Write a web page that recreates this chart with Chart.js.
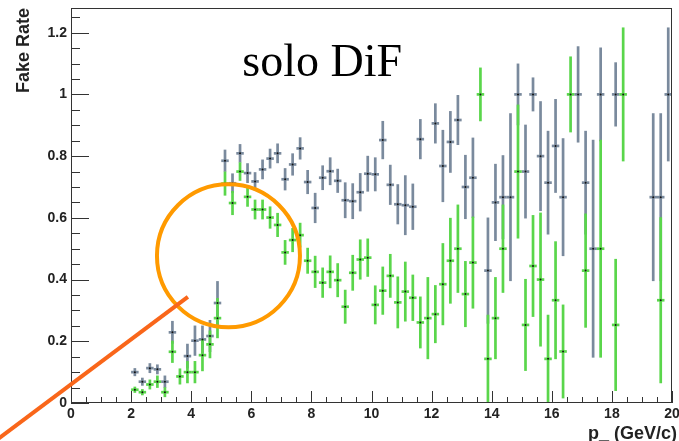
<!DOCTYPE html>
<html lang="en">
<head>
<meta charset="UTF-8">
<title>Fake Rate vs p</title>
<script src="https://cdn.jsdelivr.net/npm/chart.js"></script>
<style>
    html, body { margin: 0; padding: 0; background: #fff; }
</style>
</head>
<body>
<canvas id="fakeRate" width="679" height="441"></canvas>

<script>
// bins are 0.25 GeV/c wide, points sit at the bin centre
const binHalf = 0.125;

// grey sample
const greyX = [2.125, 2.375, 2.625, 2.875, 3.125, 3.375, 3.875, 4.125, 4.375, 4.625, 4.875,
    5.125, 5.375, 5.625, 5.875, 6.125, 6.375, 6.625, 6.875, 7.125, 7.375, 7.625, 7.875,
    8.125, 8.375, 8.625, 8.875, 9.125, 9.375, 9.625, 9.875, 10.125, 10.375, 10.625, 10.875,
    11.125, 11.375, 11.625, 12.125, 12.375, 12.625, 12.875, 13.125, 13.375, 13.875, 14.125,
    14.375, 14.625, 14.875, 15.125, 15.375, 15.625, 15.875, 16.125, 16.375, 16.875, 17.125,
    17.375, 17.625, 18.125, 19.375, 19.625, 19.875];
const greyY = [0.100, 0.069, 0.113, 0.109, 0.069, 0.229, 0.152, 0.202, 0.206, 0.217, 0.324,
    0.785, 0.712, 0.809, 0.745, 0.718, 0.757, 0.792, 0.809, 0.725, 0.773, 0.825, 0.716,
    0.632, 0.730, 0.751, 0.720, 0.657, 0.654, 0.683, 0.743, 0.741, 0.852, 0.707, 0.644,
    0.641, 0.636, 0.855, 0.906, 0.768, 0.846, 0.917, 0.700, 0.730, 0.429, 0.650,
    0.667, 0.667, 1.000, 0.750, 1.000, 0.800, 0.714, 0.833, 0.667, 1.000, 0.714,
    0.500, 1.000, 1.000, 0.667, 0.667, 1.000];
const greyErr = [0.013, 0.013, 0.016, 0.016, 0.020, 0.037, 0.040, 0.049, 0.045, 0.052, 0.071,
    0.036, 0.032, 0.030, 0.032, 0.030, 0.032, 0.032, 0.032, 0.036, 0.036, 0.036, 0.039,
    0.049, 0.040, 0.045, 0.039, 0.058, 0.058, 0.062, 0.058, 0.055, 0.062, 0.065, 0.065,
    0.097, 0.075, 0.065, 0.065, 0.117, 0.100, 0.081, 0.104, 0.130, 0.172, 0.125,
    0.136, 0.272, 0.100, 0.152, 0.055, 0.178, 0.168, 0.152, 0.191, 0.156, 0.168,
    0.353, 0.152, 0.104, 0.272, 0.272, 0.217];

// green sample
const greenX = [2.125, 2.375, 2.625, 2.875, 3.125, 3.375, 3.625, 3.875, 4.125, 4.375, 4.625, 4.875,
    5.125, 5.375, 5.625, 5.875, 6.125, 6.375, 6.625, 6.875, 7.125, 7.375, 7.625, 7.875,
    8.125, 8.375, 8.625, 8.875, 9.125, 9.375, 9.625, 9.875, 10.125, 10.375, 10.625, 10.875,
    11.125, 11.375, 11.625, 11.875, 12.125, 12.375, 12.625, 12.875, 13.125, 13.375, 13.625,
    13.875, 14.125, 14.375, 14.875, 15.125, 15.375, 15.625, 15.875, 16.125, 16.375, 16.625,
    17.125, 17.625, 18.125, 18.375, 19.625];
const greenY = [0.043, 0.035, 0.060, 0.069, 0.035, 0.166, 0.086, 0.100, 0.100, 0.155, 0.190, 0.275,
    0.711, 0.648, 0.750, 0.668, 0.627, 0.627, 0.601, 0.577, 0.488, 0.528, 0.544, 0.461,
    0.425, 0.390, 0.425, 0.398, 0.312, 0.422, 0.465, 0.471, 0.318, 0.364, 0.412, 0.326,
    0.361, 0.341, 0.261, 0.275, 0.288, 0.385, 0.461, 0.500, 0.353, 0.455, 1.000,
    0.143, 0.275, 0.500, 0.750, 0.253, 0.444, 0.400, 0.143, 0.333, 0.167, 1.000,
    0.429, 0.500, 0.253, 1.000, 0.333];
const greenErr = [0.010, 0.010, 0.016, 0.020, 0.016, 0.036, 0.026, 0.036, 0.036, 0.052, 0.045, 0.065,
    0.039, 0.039, 0.030, 0.032, 0.032, 0.032, 0.036, 0.039, 0.040, 0.039, 0.040, 0.042,
    0.052, 0.049, 0.053, 0.055, 0.055, 0.058, 0.065, 0.062, 0.063, 0.078, 0.071, 0.084,
    0.097, 0.075, 0.084, 0.133, 0.094, 0.133, 0.139, 0.143, 0.107, 0.149, 0.087,
    0.143, 0.133, 0.143, 0.217, 0.149, 0.165, 0.217, 0.143, 0.191, 0.152, 0.123,
    0.185, 0.353, 0.214, 0.217, 0.269];

const xTickStep = 2, xMinorStep = 0.5;
const yTickStep = 0.2, yMinorStep = 0.05;

const greyColor = '#7a8a9d';
const greenColor = '#5ad64b';
const circleColor = '#ff9a00';
const lineColor = '#f9661a';
const axisColor = '#333';

// highlight ring and pointer, given in axis units
const ringCentre = { x: 5.24, y: 0.477 };
const ringRadius = 71.5;
const pointerFrom = { x: -2.52, y: -0.123 };
const pointerTo = { x: 3.89, y: 0.344 };
const tagPos = { x: 8.36, y: 1.06 };

function toPoints(xs, ys) {
    return xs.map((x, i) => ({ x: x, y: ys[i] }));
}

function drawErrors(ctx, xs, ys, errs, sx, sy, color) {
    ctx.strokeStyle = color;
    ctx.lineWidth = 2.7;
    ctx.lineCap = 'butt';
    xs.forEach((x, i) => {
        const px = sx.getPixelForValue(x);
        const py = sy.getPixelForValue(ys[i]);
        ctx.beginPath();
        ctx.moveTo(px, sy.getPixelForValue(ys[i] + errs[i]));
        ctx.lineTo(px, sy.getPixelForValue(Math.max(0, ys[i] - errs[i])));
        ctx.stroke();
        ctx.beginPath();
        ctx.moveTo(sx.getPixelForValue(x - binHalf), py);
        ctx.lineTo(sx.getPixelForValue(x + binHalf), py);
        ctx.stroke();
    });
}

const histoFrame = {
    id: 'histoFrame',
    beforeDatasetsDraw(chart) {
        const { ctx, chartArea: a, scales: { x, y } } = chart;
        ctx.save();
        ctx.beginPath();
        ctx.rect(a.left, a.top, a.right - a.left, a.bottom - a.top);
        ctx.clip();
        drawErrors(ctx, greyX, greyY, greyErr, x, y, greyColor);
        drawErrors(ctx, greenX, greenY, greenErr, x, y, greenColor);
        ctx.restore();
    },
    afterDraw(chart) {
        const { ctx, chartArea: a, scales: { x, y } } = chart;
        ctx.save();

        // frame
        ctx.strokeStyle = axisColor;
        ctx.lineWidth = 1;
        ctx.strokeRect(a.left + 0.5, a.top + 0.5, a.right - a.left - 1, a.bottom - a.top - 1);

        // inward ticks, ROOT style
        ctx.beginPath();
        const nx = Math.round((x.max - x.min) / xMinorStep);
        for (let i = 0; i <= nx; i++) {
            const v = x.min + i * xMinorStep;
            const px = Math.round(x.getPixelForValue(v)) + 0.5;
            const len = (i % Math.round(xTickStep / xMinorStep) === 0) ? 12 : 6;
            ctx.moveTo(px, a.bottom);
            ctx.lineTo(px, a.bottom - len);
        }
        const ny = Math.floor((y.max - y.min) / yMinorStep + 1e-6);
        for (let i = 0; i <= ny; i++) {
            const v = y.min + i * yMinorStep;
            const py = Math.round(y.getPixelForValue(v)) + 0.5;
            const len = (i % Math.round(yTickStep / yMinorStep) === 0) ? 18 : 9;
            ctx.moveTo(a.left, py);
            ctx.lineTo(a.left + len, py);
        }
        ctx.stroke();

        // axis titles
        ctx.fillStyle = '#222';
        ctx.font = 'bold 18px "Liberation Sans", Arial, sans-serif';
        ctx.textAlign = 'right';
        ctx.textBaseline = 'alphabetic';
        ctx.fillText('p_ (GeV/c)', 677, 439);

        ctx.save();
        ctx.translate(29, a.top);
        ctx.rotate(-Math.PI / 2);
        ctx.fillText('Fake Rate', 0, 0);
        ctx.restore();

        // label inside the frame
        ctx.fillStyle = '#000';
        ctx.font = '46px "Liberation Serif", "Times New Roman", serif';
        ctx.textAlign = 'center';
        ctx.fillText('solo DiF', x.getPixelForValue(tagPos.x), y.getPixelForValue(tagPos.y));

        // highlight ring
        ctx.strokeStyle = circleColor;
        ctx.lineWidth = 4;
        ctx.beginPath();
        ctx.arc(x.getPixelForValue(ringCentre.x), y.getPixelForValue(ringCentre.y), ringRadius, 0, Math.PI * 2);
        ctx.stroke();

        // pointer line
        ctx.strokeStyle = lineColor;
        ctx.lineWidth = 4;
        ctx.beginPath();
        ctx.moveTo(x.getPixelForValue(pointerFrom.x), y.getPixelForValue(pointerFrom.y));
        ctx.lineTo(x.getPixelForValue(pointerTo.x), y.getPixelForValue(pointerTo.y));
        ctx.stroke();

        ctx.restore();
    }
};

// keep the plot frame fixed: no extra room for edge labels
function fixBox(scale, w, h) {
    if (w) scale.width = w;
    if (h) scale.height = h;
    scale.paddingTop = 0;
    scale.paddingBottom = 0;
    scale.paddingLeft = 0;
    scale.paddingRight = 0;
}

new Chart(document.getElementById('fakeRate'), {
    type: 'scatter',
    data: {
        datasets: [
            {
                label: 'grey',
                data: toPoints(greyX, greyY),
                pointRadius: 1,
                pointBorderWidth: 0,
                pointBackgroundColor: '#111'
            },
            {
                label: 'green',
                data: toPoints(greenX, greenY),
                pointRadius: 1,
                pointBorderWidth: 0,
                pointBackgroundColor: '#111'
            }
        ]
    },
    options: {
        responsive: false,
        animation: false,
        layout: { padding: { top: 8, right: 7, left: 0, bottom: 0 } },
        plugins: {
            legend: { display: false },
            tooltip: { enabled: false }
        },
        scales: {
            x: {
                type: 'linear',
                min: 0,
                max: 20,
                grid: { display: false, drawTicks: false },
                border: { display: false },
                ticks: {
                    stepSize: xTickStep,
                    padding: 3,
                    color: '#222',
                    font: { family: '"Liberation Sans", Arial, sans-serif', size: 14, weight: 'bold' },
                    maxRotation: 0
                },
                afterFit(scale) { fixBox(scale, 0, 38); }
            },
            y: {
                type: 'linear',
                min: 0,
                max: 1.28,
                grid: { display: false, drawTicks: false },
                border: { display: false },
                ticks: {
                    stepSize: yTickStep,
                    includeBounds: false,
                    padding: 4,
                    color: '#222',
                    font: { family: '"Liberation Sans", Arial, sans-serif', size: 14, weight: 'bold' },
                    callback: v => String(Number(v.toFixed(2)))
                },
                afterFit(scale) { fixBox(scale, 71, 0); }
            }
        }
    },
    plugins: [histoFrame]
});
</script>
</body>
</html>
